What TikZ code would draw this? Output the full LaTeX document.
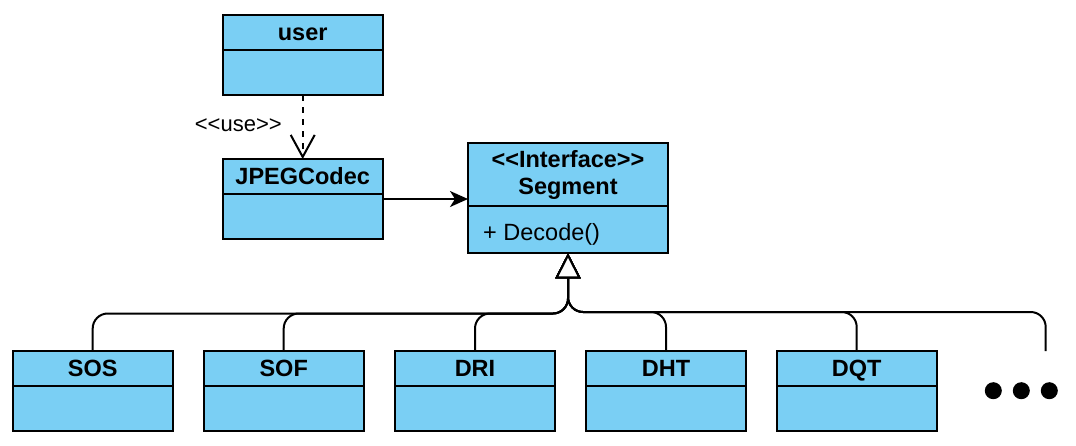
\documentclass[tikz,border=0pt]{standalone}
\usepackage{fontspec}
\setmainfont{Liberation Sans}
\usetikzlibrary{arrows.meta,fit,calc}
\definecolor{boxblue}{RGB}{122,207,244}
\begin{document}
\begin{tikzpicture}[x=1pt,y=-1pt,
  hdr/.style={draw, line width=2pt, fill=boxblue, minimum width=160pt, minimum height=35pt,
    inner sep=0pt, outer sep=0pt, text height=16.8pt, text depth=0pt,
    font=\fontsize{23.5}{27}\selectfont\bfseries},
  bodybox/.style={draw, line width=2pt, fill=boxblue, minimum width=160pt, minimum height=45pt,
    inner sep=0pt, outer sep=0pt},
  whole/.style={inner sep=0pt, outer sep=0pt, fit=#1},
  conn/.style={line width=2pt, line join=round},
  gen/.style={conn, rounded corners=15pt, -{Triangle[length=25pt,width=25pt,fill=white]}},
  dot/.style={circle, fill=black, minimum size=17pt, inner sep=0pt}]
\useasboundingbox (0,0) rectangle (1076,445);

% top classes
\node[hdr] (user) at (302.7,32.5) {user};
\node[bodybox] (userb) at (302.7,72.5) {};
\node[whole={(user)(userb)}] (userall) {};

\node[hdr] (jpeg) at (302.7,176.5) {JPEGCodec};
\node[bodybox] (jpegb) at (302.7,216.5) {};
\node[whole={(jpeg)(jpegb)}] (jpegall) {};

\node[hdr, text height=, text depth=, minimum width=200pt, minimum height=63pt, align=center] (seg) at (568,174.8)
  {<\kern0pt<Interface>\kern0pt>\\Segment};
\node[bodybox, minimum width=200pt, minimum height=47pt] (segb) at (568,229.8) {};
\node[anchor=base west, inner sep=0pt, font=\fontsize{23.5}{27}\selectfont] (decode) at (483,240.5) {+ Decode()};
\node[whole={(seg)(segb)}] (segall) {};

% bottom classes
\foreach \n/\t/\cx in {sos/SOS/92.7, sof/SOF/283.7, dri/DRI/475, dht/DHT/666, dqt/DQT/856.7}{
  \node[hdr] (\n) at (\cx,368.5) {\t};
  \node[bodybox] (\n b) at (\cx,408.5) {};
}

\node[dot] (dot1) at (993.3,390.7) {};
\node[dot] (dot2) at (1021.3,390.7) {};
\node[dot] (dot3) at (1049.3,390.7) {};

% dependency
\draw[conn, dash pattern=on 6pt off 6pt, -{Straight Barb[length=22pt,width=24pt]}]
  (userall.south) -- (jpegall.north);
\node[font=\fontsize{22}{26}\selectfont, inner sep=0pt] (uselabel) at (238.3,125) {<\kern0pt<use>\kern0pt>};

% association
\draw[conn, -{Stealth[length=18pt,width=16pt,inset=5pt]}]
  (jpegall.east) -- (jpegall.east -| segall.west);

% generalization
\coordinate (jl) at (568,313.5);
\coordinate (jr) at (568,312);
\coordinate (more) at (1045.7,351);
\draw[gen] (sos.north) |- (jl) -- (segall.south);
\draw[gen] (sof.north) |- (jl) -- (segall.south);
\draw[gen] (dri.north) |- (jl) -- (segall.south);
\draw[gen] (dht.north) |- (jr) -- (segall.south);
\draw[gen] (dqt.north) |- (jr) -- (segall.south);
\draw[gen] (more) |- (jr) -- (segall.south);
\end{tikzpicture}
\end{document}
